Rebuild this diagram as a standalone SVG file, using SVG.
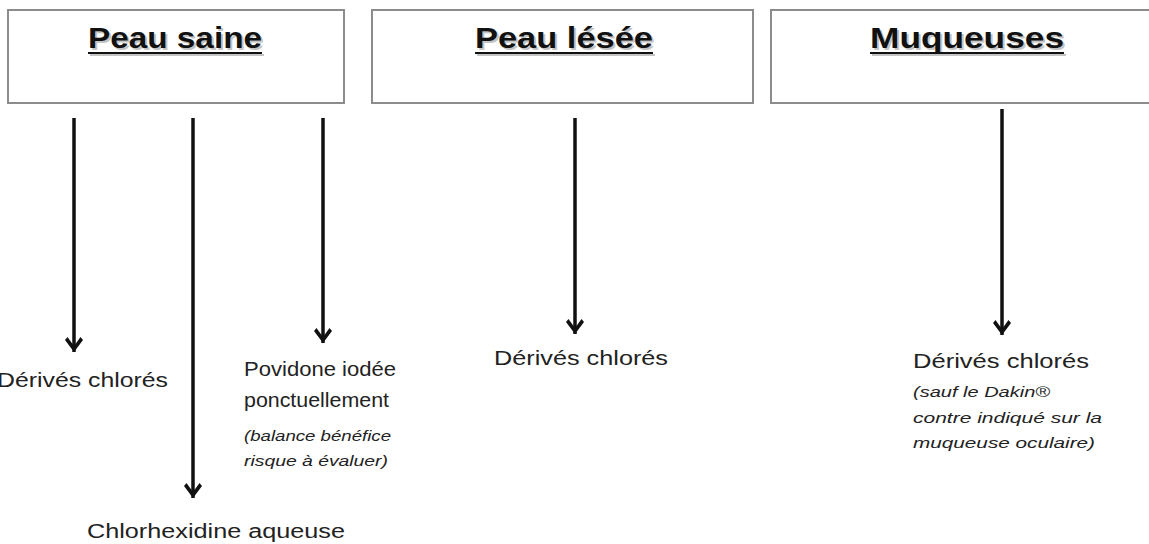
<svg xmlns="http://www.w3.org/2000/svg" width="1149" height="544" viewBox="0 0 1149 544">
<style>
.box{fill:#fff;stroke:#8c8c8c;stroke-width:2}
.title{font-family:"Liberation Sans",Arial,sans-serif;font-weight:bold;font-size:29px;fill:#111}
.shadow{font-family:"Liberation Sans",Arial,sans-serif;font-weight:bold;font-size:29px;fill:#c4c4c4}
.ul{stroke:#111;stroke-width:2}
.uls{stroke:#c4c4c4;stroke-width:2}
.t{font-family:"Liberation Sans",Arial,sans-serif;font-size:20px;fill:#222}
.i{font-family:"Liberation Sans",Arial,sans-serif;font-style:italic;font-size:14px;fill:#222}
.c{stroke:#111;stroke-width:3.5;fill:none}
</style>
<defs>
<marker id="ah" viewBox="0 -11 18 22" refX="17" refY="0" markerWidth="18" markerHeight="22" markerUnits="userSpaceOnUse" orient="auto">
<path d="M17,0 L5,-9 L2,-6.5 L11,0 L2,6.5 L5,9 Z" fill="#111"/>
</marker>
</defs>
<rect width="1149" height="544" fill="#fff"/>
<g id="n-peau-saine">
<rect class="box" x="8" y="10" width="336" height="93"/>
<text class="shadow" x="90" y="50" textLength="174" lengthAdjust="spacingAndGlyphs">Peau saine</text>
<line class="uls" x1="90" y1="55" x2="264" y2="55"/>
<text class="title" x="88" y="48" textLength="174" lengthAdjust="spacingAndGlyphs">Peau saine</text>
<line class="ul" x1="88" y1="53" x2="262" y2="53"/>
</g>
<g id="n-peau-lesee">
<rect class="box" x="372" y="10" width="381" height="93"/>
<text class="shadow" x="477" y="50" textLength="178" lengthAdjust="spacingAndGlyphs">Peau lésée</text>
<line class="uls" x1="477" y1="55" x2="655" y2="55"/>
<text class="title" x="475" y="48" textLength="178" lengthAdjust="spacingAndGlyphs">Peau lésée</text>
<line class="ul" x1="475" y1="53" x2="653" y2="53"/>
</g>
<g id="n-muqueuses">
<rect class="box" x="771" y="10" width="400" height="93"/>
<text class="shadow" x="872" y="50" textLength="194" lengthAdjust="spacingAndGlyphs">Muqueuses</text>
<line class="uls" x1="872" y1="55" x2="1066" y2="55"/>
<text class="title" x="870" y="48" textLength="194" lengthAdjust="spacingAndGlyphs">Muqueuses</text>
<line class="ul" x1="870" y1="53" x2="1064" y2="53"/>
</g>
<g id="connectors">
<line class="c" x1="74" y1="118" x2="74" y2="352" marker-end="url(#ah)"/>
<line class="c" x1="193" y1="118" x2="193" y2="498" marker-end="url(#ah)"/>
<line class="c" x1="323" y1="118" x2="323" y2="343" marker-end="url(#ah)"/>
<line class="c" x1="575" y1="118" x2="575" y2="334" marker-end="url(#ah)"/>
<line class="c" x1="1002" y1="109" x2="1002" y2="335" marker-end="url(#ah)"/>
</g>
<g id="n-derives-1">
<text class="t" x="-3" y="387" textLength="171" lengthAdjust="spacingAndGlyphs">Dérivés chlorés</text>
</g>
<g id="n-chlorhexidine">
<text class="t" x="87" y="538" textLength="258" lengthAdjust="spacingAndGlyphs">Chlorhexidine  aqueuse</text>
</g>
<g id="n-povidone">
<text class="t" x="244" y="376" textLength="152" lengthAdjust="spacingAndGlyphs">Povidone  iodée</text>
<text class="t" x="244" y="407" textLength="145" lengthAdjust="spacingAndGlyphs">ponctuellement</text>
<text class="i" x="244" y="441" textLength="147" lengthAdjust="spacingAndGlyphs">(balance bénéfice</text>
<text class="i" x="244" y="466" textLength="144" lengthAdjust="spacingAndGlyphs">risque à évaluer)</text>
</g>
<g id="n-derives-2">
<text class="t" x="494" y="365" textLength="174" lengthAdjust="spacingAndGlyphs">Dérivés chlorés</text>
</g>
<g id="n-derives-3">
<text class="t" x="913" y="368" textLength="176" lengthAdjust="spacingAndGlyphs">Dérivés chlorés</text>
<text class="i" x="913" y="397" textLength="137" lengthAdjust="spacingAndGlyphs">(sauf le Dakin®</text>
<text class="i" x="913" y="423" textLength="189" lengthAdjust="spacingAndGlyphs">contre indiqué sur la</text>
<text class="i" x="913" y="448" textLength="182" lengthAdjust="spacingAndGlyphs">muqueuse oculaire)</text>
</g>
</svg>
